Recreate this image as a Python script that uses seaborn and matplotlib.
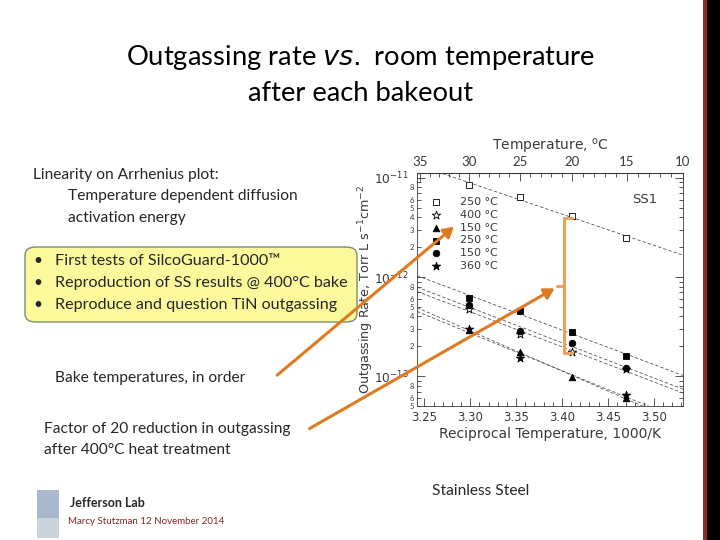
import numpy as np
import pandas as pd
import matplotlib
matplotlib.use('Agg')
import matplotlib.pyplot as plt
import matplotlib.ticker as mticker
from matplotlib.patches import FancyBboxPatch, Rectangle, FancyArrowPatch
import seaborn as sns

# data (x = 1000/K, rate in Torr L s^-1 cm^-2)
recip_T = [3.299, 3.354, 3.411, 3.470]
ss1_250_open = [8.5e-12, 6.4e-12, 4.1e-12, 2.5e-12]
star_400_open = [4.8e-13, 2.65e-13, 1.76e-13, 1.17e-13]
tri_150 = [2.9e-13, 1.76e-13, 9.8e-14, 6.0e-14]
sq_250 = [6.2e-13, 4.5e-13, 2.76e-13, 1.6e-13]
circ_150 = [5.2e-13, 2.85e-13, 2.14e-13, 1.21e-13]
star_360 = [2.96e-13, 1.51e-13, np.nan, 6.4e-14]
series_labels = ['250 °C', '400 °C', '150 °C', '250 °C', '150 °C', '360 °C']
temp_ticks_C = [35, 30, 25, 20, 15, 10]

series = [ss1_250_open, star_400_open, tri_150, sq_250, circ_150, star_360]
markers = ['s', '*', '^', 's', 'o', '*']
filled = [False, False, True, True, True, True]
msizes = [14, 40, 22, 18, 22, 40]

sns.set_style('ticks')
plt.rcParams['font.family'] = ['Lato', 'DejaVu Sans']

fig = plt.figure(figsize=(7.2, 5.4), dpi=100)

# ---- chart ----
ax = fig.add_axes([417/720, 1 - 406/540, (683-417)/720, (406-173)/540])
gray = '#3a3a3a'
xlim = (3.242, 3.532)
ylim = (5e-14, 1.12e-11)
xfit = np.linspace(xlim[0], xlim[1], 50)
for vals, m, f, s, lab in zip(series, markers, filled, msizes, series_labels):
    d = pd.DataFrame({'x': recip_T, 'y': vals}).dropna()
    k, b = np.polyfit(d['x'], np.log10(d['y']), 1)
    ax.plot(xfit, 10 ** (k * xfit + b), ls=(0, (4, 2.5)), lw=0.6, color='#555555', zorder=1)
    sns.scatterplot(data=d, x='x', y='y', ax=ax, marker=m, s=s,
                    color='black' if f else 'white', edgecolor='black',
                    linewidth=0.6, label=lab, zorder=3)

ax.set_yscale('log')
ax.set_xlim(*xlim)
ax.set_ylim(*ylim)
ax.xaxis.set_major_locator(mticker.MultipleLocator(0.05))
ax.xaxis.set_minor_locator(mticker.MultipleLocator(0.01))
ax.xaxis.set_major_formatter(mticker.FormatStrFormatter('%.2f'))

major_y = [1e-13, 1e-12, 1e-11]
minor_y = [m * 10.0 ** e for e in (-14, -13, -12) for m in range(2, 10)
           if ylim[0] <= m * 10.0 ** e <= ylim[1]]
ax.yaxis.set_major_locator(mticker.FixedLocator(major_y))
ax.yaxis.set_minor_locator(mticker.FixedLocator(minor_y))
ax.yaxis.set_major_formatter(mticker.LogFormatterMathtext())

def minor_fmt(v, pos):
    m = int(round(v / 10 ** np.floor(np.log10(v) + 1e-9)))
    return str(m) if m in (2, 3, 4, 5, 6, 8) else ''

ax.yaxis.set_minor_formatter(mticker.FuncFormatter(minor_fmt))
ax.tick_params(which='both', direction='in', top=False, right=True, colors=gray,
               labelcolor=gray, width=0.6)
ax.tick_params(which='major', length=6, labelsize=8.5)
ax.tick_params(which='minor', length=3, labelsize=5.5, pad=2)
ax.tick_params(axis='y', which='major', labelsize=8.8, pad=6)
for sp in ax.spines.values():
    sp.set_color(gray)
    sp.set_linewidth(0.6)
ax.set_xlabel('Reciprocal Temperature, 1000/K', fontsize=10, color=gray,
              family='DejaVu Sans', labelpad=2)
ax.set_ylabel('Outgassing Rate, Torr L s$^{-1}$cm$^{-2}$', fontsize=9.2,
              color=gray, family='DejaVu Sans')
ax.yaxis.set_label_coords((376 - 417) / 266, 0.5)
for t in ax.get_xticklabels() + ax.get_yticklabels():
    t.set_family('DejaVu Sans')

top = ax.secondary_xaxis('top', functions=(lambda x: 1000 / x - 273.15,
                                            lambda t: 1000 / (t + 273.15)))
top.set_xticks(temp_ticks_C)
top.xaxis.set_minor_locator(mticker.FixedLocator(np.arange(10, 36, 1)))
top.tick_params(which='both', direction='in', colors=gray, labelcolor=gray, width=0.6)
top.tick_params(which='major', length=6, labelsize=9.5)
top.tick_params(which='minor', length=3)
top.set_xlabel('Temperature, $^{\\rm o}$C', fontsize=10, color=gray,
               family='DejaVu Sans', labelpad=4)
top.spines['top'].set_color(gray)

leg = ax.legend(loc='upper left', bbox_to_anchor=(0.0, 0.93), frameon=False,
                fontsize=8, handletextpad=1.2, labelspacing=0.25,
                borderaxespad=0.3, markerscale=1.0)
for t in leg.get_texts():
    t.set_color(gray)
    t.set_family('DejaVu Sans')
ax.text(0.81, 0.87, 'SS1', transform=ax.transAxes, fontsize=9.5, color=gray,
        family='DejaVu Sans')

# ---- slide text ----
def px(x, y):
    return x / 720, 1 - y / 540

fig.text(*px(361, 57), 'Outgassing rate $\\it{vs.}$ room temperature', ha='center',
         va='center', fontsize=19.7, color='black')
fig.text(*px(361, 93), 'after each bakeout', ha='center', va='center',
         fontsize=19.7, color='black')

body = 11.2
fig.text(*px(33, 175), 'Linearity on Arrhenius plot:', va='center', fontsize=body)
fig.text(*px(68, 196), 'Temperature dependent diffusion', va='center', fontsize=body)
fig.text(*px(68, 218), 'activation energy', va='center', fontsize=body)

box = FancyBboxPatch(px(25, 322), (357 - 25) / 720, (322 - 247) / 540,
                     boxstyle='round,pad=0,rounding_size=0.015',
                     transform=fig.transFigure, facecolor='#FBF99B',
                     edgecolor='#7D8B6E', linewidth=1.0, zorder=0)
fig.patches.append(box)
for y, s in zip([261, 283, 305], ['First tests of SilcoGuard-1000\u2122',
                                   'Reproduction of SS results @ 400\u00b0C bake',
                                   'Reproduce and question TiN outgassing']):
    fig.text(*px(33, y), '\u2022', va='center', fontsize=body)
    fig.text(*px(55, y), s, va='center', fontsize=body + 0.4)

fig.text(*px(55, 378), 'Bake temperatures, in order', va='center', fontsize=body)
fig.text(*px(44, 429), 'Factor of 20 reduction in outgassing', va='center', fontsize=body)
fig.text(*px(44, 450), 'after 400\u00b0C heat treatment', va='center', fontsize=body)
fig.text(*px(432, 491), 'Stainless Steel', va='center', fontsize=body)

# logo + footer
fig.patches.append(Rectangle(px(37, 538), 22 / 720, 48 / 540, transform=fig.transFigure,
                             facecolor='#A9B8CC', edgecolor='none'))
fig.patches.append(Rectangle(px(37, 538), 22 / 720, 20 / 540, transform=fig.transFigure,
                             facecolor='#C9D2DD', edgecolor='none'))
fig.text(*px(70, 503), 'Jefferson Lab', va='center', fontsize=9, fontweight='bold')
fig.text(*px(68, 522), 'Marcy Stutzman 12 November 2014', va='center',
         fontsize=7, color='#8B2323')

# right edge stripes
fig.patches.append(Rectangle((703 / 720, 0), 4 / 720, 1, transform=fig.transFigure,
                             facecolor='#8E2B2B', edgecolor='none'))
fig.patches.append(Rectangle((707 / 720, 0), 13 / 720, 1, transform=fig.transFigure,
                             facecolor='black', edgecolor='none'))

# orange annotations
orange = '#E07A22'
for (x0, y0), (x1, y1) in [((275, 377), (456, 225)), ((307, 430), (557, 287))]:
    fig.patches.append(FancyArrowPatch(px(x0, y0), px(x1, y1), transform=fig.transFigure,
                                       arrowstyle='-|>,head_length=6,head_width=3.5',
                                       color=orange, lw=2.2, zorder=10))
bracket = '#EBA05C'
bx = [572, 564, 564, 572]
by = [218, 218, 353, 353]
fig.add_artist(plt.Line2D([x / 720 for x in bx], [1 - y / 540 for y in by],
                          transform=fig.transFigure, color=bracket, lw=2.2, zorder=10))
fig.add_artist(plt.Line2D([557 / 720, 564 / 720], [1 - 286 / 540] * 2,
                          transform=fig.transFigure, color=bracket, lw=2.2, zorder=10))

fig.savefig('out.png', dpi=100)
